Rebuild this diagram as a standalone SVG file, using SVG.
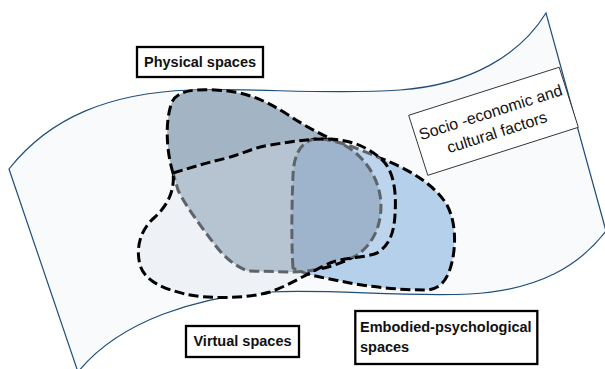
<svg xmlns="http://www.w3.org/2000/svg" xmlns:xlink="http://www.w3.org/1999/xlink" width="605" height="369" viewBox="0 0 605 369">
<style>
.lbl{fill:#fff;stroke:#000;stroke-width:2.3}
.lt{font-family:"Liberation Sans",Arial,sans-serif;font-weight:bold;font-size:14.5px;fill:#111}
.dash{fill:none;stroke-width:3;stroke-dasharray:10 4.5;stroke-linejoin:round}
.blk{stroke:#000}
.gry{stroke:#5e6369}
</style>
<defs>
<path id="pP" d="M173,173 C166,150 165,120 172,102 C178,90 195,89 215,90 C245,91 265,100 290,116 C305,126 320,134 340,143 C360,152 376,172 380,195 C384,220 375,243 357,255 C340,265 315,272 292,272 L248,271 C235,266 225,258 215,245 C200,225 185,205 178,190 Z"/>
<path id="pV" d="M173,173 C190,168 205,163 227,158 C245,153 255,147 270,145 C295,141 320,137 340,140 C360,143 375,152 385,163 C396,177 396,200 395,215 C394,232 390,245 377,253 C365,258 345,257 330,263 C310,272 290,285 270,292 C245,299 205,299 185,294 C165,289 145,282 140,265 C135,245 142,228 155,217 C168,205 175,190 173,173 Z"/>
<path id="pE" d="M293,268 C291,240 292,200 293,175 C294,155 300,142 315,139 C335,138 360,150 385,160 C410,170 435,185 447,205 C456,222 456,245 452,262 C448,280 440,290 425,290 C400,290 370,287 345,282 C325,278 305,275 293,268 Z"/>
<clipPath id="cP"><use xlink:href="#pP"/></clipPath>
<clipPath id="cV"><use xlink:href="#pV"/></clipPath>
<clipPath id="cE"><use xlink:href="#pE"/></clipPath>
<mask id="mOutV" maskUnits="userSpaceOnUse" x="0" y="0" width="605" height="369">
<rect width="605" height="369" fill="#fff"/>
<use xlink:href="#pV" fill="#000"/>
</mask>
</defs>
<rect width="605" height="369" fill="#fff"/>
<g id="socio-economic-context">
<path d="M9,169 C50,117 110,93 190,90 C260,88 330,95 400,90 C470,85 520,55 546,13 L606,231 C580,265 540,290 470,294 C400,297 330,289 270,292 C200,296 120,320 78,372 Z" fill="#f9fafb" stroke="#1f4e79" stroke-width="1.2"/>
<g transform="translate(493.5,121.3) rotate(-17.7)">
<rect x="-79" y="-31.5" width="158" height="63" fill="#fff" stroke="#333" stroke-width="0.9"/>
<text x="0" y="-4" text-anchor="middle" font-family="'Liberation Sans',Arial,sans-serif" font-size="16" fill="#111">Socio -economic and</text>
<text x="0" y="17" text-anchor="middle" font-family="'Liberation Sans',Arial,sans-serif" font-size="16" fill="#111">cultural factors</text>
</g>
</g>
<g id="regions">
<use xlink:href="#pP" fill="#a3b4c4"/>
<use xlink:href="#pE" fill="#b5d0ea"/>
<use xlink:href="#pV" fill="#eef2f7"/>
<g clip-path="url(#cV)"><use xlink:href="#pP" fill="#b6c4d1"/><use xlink:href="#pE" fill="#bcd5ec"/></g>
<g clip-path="url(#cV)"><g clip-path="url(#cP)"><use xlink:href="#pE" fill="#9db4cc"/></g></g>
</g>
<g id="outlines">
<g mask="url(#mOutV)"><use xlink:href="#pP" class="dash blk"/><use xlink:href="#pE" class="dash blk"/></g>
<g clip-path="url(#cV)"><use xlink:href="#pP" class="dash gry"/><use xlink:href="#pE" class="dash gry"/></g>
<use xlink:href="#pV" class="dash blk"/>
</g>
<g id="physical-spaces">
<rect class="lbl" x="137" y="47" width="126" height="30"/>
<text class="lt" x="200" y="66.5" text-anchor="middle">Physical spaces</text>
</g>
<g id="virtual-spaces">
<rect class="lbl" x="186" y="326" width="113" height="31"/>
<text class="lt" x="242.5" y="345.5" text-anchor="middle">Virtual spaces</text>
</g>
<g id="embodied-psychological-spaces">
<rect class="lbl" x="355.3" y="311" width="182" height="53"/>
<text class="lt" x="360" y="332">Embodied-psychological</text>
<text class="lt" x="360" y="352">spaces</text>
</g>
<g id="connectors"/>
</svg>
